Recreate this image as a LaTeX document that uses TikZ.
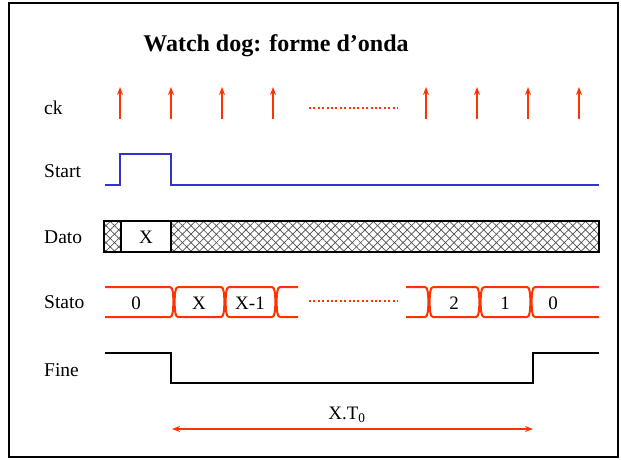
\documentclass[tikz,border=0pt]{standalone}
\usepackage{fontspec}
\setmainfont{Liberation Serif}
\usetikzlibrary{arrows.meta,patterns.meta}

\definecolor{wdred}{RGB}{255,51,0}
\definecolor{wdblue}{RGB}{51,51,204}

\tikzset{
  sig/.style={line width=2pt},
  lbl/.style={anchor=west, inner sep=0pt, font=\fontsize{19.5}{22}\selectfont},
  val/.style={inner sep=0pt, font=\fontsize{19}{22}\selectfont},
  dots/.style={wdred, line width=2pt, dash pattern=on 2pt off 2.4pt},
  hatch/.style={pattern={Lines[angle=45,distance=6pt,line width=0.7pt]}, pattern color=black!70},
  hatchb/.style={pattern={Lines[angle=-45,distance=6pt,line width=0.7pt]}, pattern color=black!70}
}

\begin{document}
\begin{tikzpicture}[x=1pt,y=-1pt]
    \useasboundingbox (0,0) rectangle (621,459);
    \draw[line width=2pt] (9,3) rectangle (618,457);

    \node[font=\fontsize{24}{28}\selectfont\bfseries] (title) at (276,46) {Watch dog: forme d’onda};

    % etichette dei segnali
    \node[lbl] (ck) at (44,108) {ck};
    \node[lbl] (start) at (44,171) {Start};
    \node[lbl] (dato) at (44,237) {Dato};
    \node[lbl] (stato) at (44,302) {Stato};
    \node[lbl] (fine) at (44,370) {Fine};

    % clock
    \foreach \x in {120,171,222,273,426,477,528,579}
      \draw[wdred, line width=1.8pt, -{Stealth[length=8pt,width=6pt]}] (\x,119) -- (\x,87);
    \draw[dots] (309,108) -- (398,108);

    % start
    \draw[sig, wdblue] (105,185) -- (120,185) -- (120,154) -- (171,154) -- (171,185) -- (599,185);

    % dato
    \fill[hatch] (104,221) rectangle (121,252);
    \fill[hatchb] (104,221) rectangle (121,252);
    \fill[hatch] (171,221) rectangle (599,252);
    \fill[hatchb] (171,221) rectangle (599,252);
    \draw[line width=1.6pt] (104,221) rectangle (599,252);
    \draw[line width=1.6pt] (121,221) -- (121,252) (171,221) -- (171,252);
    \node[val] (dx) at (146,237) {X};

    % stato
    \draw[sig, wdred] (105,287) -- (170,287) .. controls (173,287) and (173,294) .. (173.5,302)
      .. controls (173,310) and (173,317) .. (170,317) -- (105,317);
    \foreach \a/\b in {174/225,225/276,429/480,480/531}
      \draw[sig, wdred] (\a+4,287) -- (\b-4,287) .. controls (\b-1,287) and (\b-1,294) .. (\b-0.5,302)
        .. controls (\b-1,310) and (\b-1,317) .. (\b-4,317) -- (\a+4,317)
        .. controls (\a+1,317) and (\a+1,310) .. (\a+0.5,302)
        .. controls (\a+1,294) and (\a+1,287) .. (\a+4,287);
    \draw[sig, wdred] (298,287) -- (280,287) .. controls (277,287) and (277,294) .. (276.5,302)
      .. controls (277,310) and (277,317) .. (280,317) -- (298,317);
    \draw[sig, wdred] (406,287) -- (425,287) .. controls (428,287) and (428,294) .. (428.5,302)
      .. controls (428,310) and (428,317) .. (425,317) -- (406,317);
    \draw[sig, wdred] (599,287) -- (535,287) .. controls (532,287) and (532,294) .. (531.5,302)
      .. controls (532,310) and (532,317) .. (535,317) -- (599,317);
    \draw[dots] (309,301) -- (398,301);
    \node[val] (s0) at (136,303) {0};
    \node[val] (sx) at (199,303) {X};
    \node[val] (sx1) at (250,303) {X-1};
    \node[val] (s2) at (454,303) {2};
    \node[val] (s1) at (505,303) {1};
    \node[val] (s0b) at (553,303) {0};

    % fine
    \draw[sig] (105,353) -- (171,353) -- (171,383) -- (533,383) -- (533,353) -- (599,353);

    % durata
    \coordinate (tl) at (172,429);
    \coordinate (tr) at (533,429);
    \draw[wdred, line width=2pt, {Stealth[length=8pt,width=6pt]}-{Stealth[length=8pt,width=6pt]}] (tl) -- (tr);
    \node[val] (xt) at (347,415) {X.T\textsubscript{0}};
\end{tikzpicture}
\end{document}
